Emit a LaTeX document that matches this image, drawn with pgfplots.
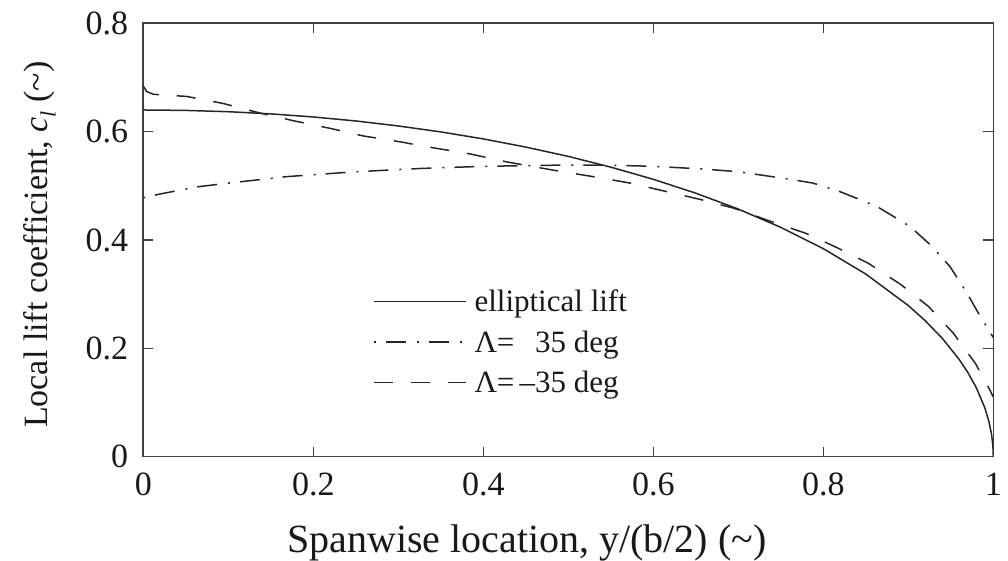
\documentclass[border=0pt]{standalone}
\usepackage{fontspec}
\setmainfont{Liberation Serif}
\usepackage{amsmath}
\usepackage{pgfplots}
\pgfplotsset{compat=1.18}

\pgfplotstableread{
x y
0 0.64
0.05 0.6392
0.1 0.6368
0.15 0.6328
0.2 0.6271
0.25 0.6197
0.3 0.6105
0.35 0.5995
0.4 0.5866
0.45 0.5715
0.5 0.5543
0.55 0.5345
0.6 0.512
0.65 0.4864
0.7 0.4571
0.75 0.4233
0.8 0.384
0.85 0.3371
0.9 0.2790
0.92 0.2508
0.94 0.2184
0.96 0.1792
0.97 0.1556
0.98 0.1274
0.99 0.0903
0.995 0.0639
0.998 0.0405
0.9995 0.0202
1 0
}\elliptic

\pgfplotstableread{
x y
0 0.478
0.02 0.485
0.063 0.498
0.1 0.505
0.169 0.517
0.25 0.526
0.326 0.532
0.4 0.536
0.482 0.538
0.55 0.538
0.6 0.536
0.659 0.531
0.7 0.526
0.757 0.513
0.788 0.505
0.82 0.489
0.863 0.462
0.902 0.425
0.926 0.391
0.949 0.351
0.969 0.302
0.985 0.258
1.0 0.22
}\posswe

\pgfplotstableread{
x y
0 0.684
0.004 0.674
0.012 0.669
0.03 0.667
0.051 0.665
0.094 0.652
0.138 0.634
0.177 0.620
0.22 0.606
0.259 0.592
0.303 0.581
0.334 0.572
0.384 0.559
0.428 0.544
0.482 0.529
0.529 0.517
0.573 0.505
0.611 0.491
0.655 0.475
0.694 0.459
0.737 0.435
0.78 0.412
0.816 0.386
0.853 0.357
0.891 0.318
0.924 0.277
0.953 0.228
0.979 0.172
0.996 0.123
1.0 0.11
}\negswe

\begin{document}
\begin{tikzpicture}
\begin{axis}[
  name=ax,
  scale only axis, width=850pt, height=433.4pt,
  xmin=0, xmax=1, ymin=0, ymax=0.8,
  xtick={0,0.2,0.4,0.6,0.8,1},
  xticklabels={0,0.2,0.4,0.6,0.8,1},
  ytick={0,0.2,0.4,0.6,0.8},
  yticklabels={0,0.2,0.4,0.6,0.8},
  tick align=inside,
  major tick length=10pt,
  axis line style={draw=black!75, line width=1.6pt},
  every tick/.style={draw=black!75, line width=1.4pt},
  tick label style={font=\fontsize{34}{40}\selectfont, text=black!90},
  yticklabel style={inner sep=0pt, xshift=-15pt},
  xticklabel style={inner sep=0pt, yshift=-16pt},
  xlabel={Spanwise location, y/(b/2) (\textasciitilde)},
  ylabel={Local lift coefficient, \textit{c}\raisebox{-0.25em}{\fontsize{22}{24}\selectfont\textit{l}} (\textasciitilde)},
  xlabel style={font=\fontsize{40}{46}\selectfont, text=black!90, at={(axis description cs:0.169,0)}, anchor=base west, yshift=-96.3pt, inner sep=0pt},
  ylabel style={font=\fontsize{34}{40}\selectfont, text=black!90, at={(axis description cs:-0.113,0.066)}, anchor=base west, inner sep=0pt},
  legend cell align=left,
  legend style={draw=none, fill=none, at={(axis cs:0.270,0.312)}, anchor=north west,
    inner sep=0pt, row sep=13.5pt, column sep=6pt, font=\fontsize{31}{36}\selectfont, text=black!90,
    nodes={inner sep=2pt}},
  legend image code/.code={\draw[#1] (0pt,0pt) -- (92pt,0pt);},
  every axis plot/.append style={line width=1.5pt, black!85},
]
\addplot[solid] table[x=x,y=y] {\elliptic};
\addlegendentry{elliptical lift}
\addplot[dash pattern=on 2pt off 10pt on 20pt off 11pt] table[x=x,y=y] {\posswe};
\addlegendentry{Λ=\,\phantom{–}35 deg}
\addplot[dash pattern=on 19pt off 18pt] table[x=x,y=y] {\negswe};
\addlegendentry{Λ=\,–35 deg}
\end{axis}
\pgfresetboundingbox
\path ([xshift=-143.3pt,yshift=-104.3pt]ax.south west) rectangle ([xshift=14.7pt,yshift=23.3pt]ax.north east);
\end{tikzpicture}
\end{document}
